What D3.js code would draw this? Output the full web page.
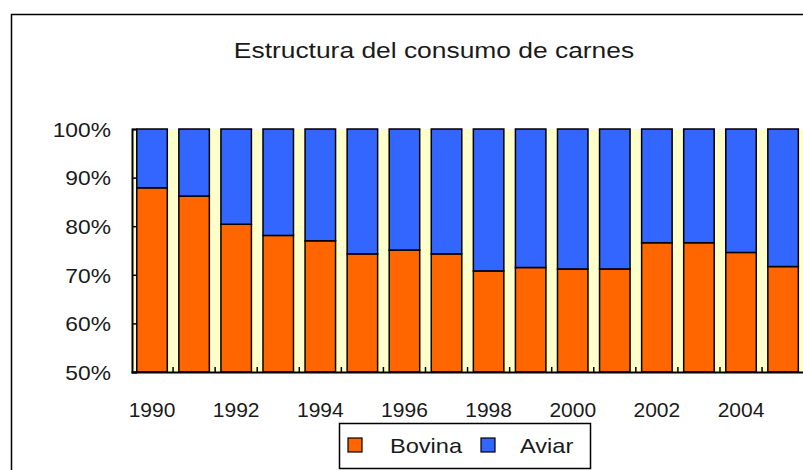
<!DOCTYPE html>
<html>
<head>
<meta charset="utf-8">
<script src="https://cdn.jsdelivr.net/npm/d3@7"></script>
<style>
  html, body { margin: 0; padding: 0; background: #fff; overflow: hidden; }
  text { font-family: "Liberation Sans", Arial, sans-serif; fill: #1a1a1a; }
</style>
</head>
<body>
<svg id="chart"></svg>
<script>
// datos del gráfico
const years = ["1990", "1991", "1992", "1993", "1994", "1995", "1996", "1997",
               "1998", "1999", "2000", "2001", "2002", "2003", "2004", "2005"];
const bovina = [87.9, 86.2, 80.4, 78.1, 77.0, 74.3, 75.1, 74.3,
                70.8, 71.5, 71.2, 71.2, 76.6, 76.6, 74.6, 71.7];
const aviar = bovina.map(v => +(100 - v).toFixed(1));
const yTicks = [50, 60, 70, 80, 90, 100];
const xLabels = ["1990", "1992", "1994", "1996", "1998", "2000", "2002", "2004"];
const seriesNames = ["Bovina", "Aviar"];
const colors = ["#ff6600", "#3366ff"];

const width = 880, height = 520;

const svg = d3.select("#chart").attr("width", width).attr("height", height);

// texto estirado horizontalmente alrededor de su punto de anclaje
const stretch = (sx) => (sel) => sel.attr("transform", function () {
    let t = d3.select(this);
    let x = +t.attr("x"), y = +t.attr("y");
    return `translate(${x},${y}) scale(${sx},1) translate(${-x},${-y})`;
});

// marco exterior
svg.append("rect")
    .attr("x", 11.5).attr("y", 14.5)
    .attr("width", 900).attr("height", 600)
    .attr("fill", "#fff").attr("stroke", "#000").attr("stroke-width", 1.5);

// título
svg.append("text")
    .attr("x", 434).attr("y", 58)
    .attr("text-anchor", "middle")
    .style("font-size", "22px")
    .text("Estructura del consumo de carnes")
    .call(stretch(1.2));

// escalas
let plotLeft = 131, plotTop = 129, plotBottom = 372;
let step = 42.07;
let scaleX = d3.scaleBand()
    .domain(years)
    .range([plotLeft, plotLeft + step * years.length])
    .paddingInner(0.275)
    .paddingOuter(0.1375);
let scaleY = d3.scaleLinear()
    .domain([50, 100])
    .range([plotBottom, plotTop]);

// fondo del área de trazado
svg.append("rect")
    .attr("x", plotLeft).attr("y", plotTop)
    .attr("width", step * years.length).attr("height", plotBottom - plotTop)
    .attr("fill", "#ffffcc");

// barras apiladas al 100%
let rows = years.map((y, i) => ({ year: y, Bovina: bovina[i], Aviar: aviar[i] }));
let stack = d3.stack().keys(seriesNames)(rows);

svg.append("g")
    .selectAll("g")
    .data(stack)
    .join("g")
    .attr("fill", (d, i) => colors[i])
    .selectAll("rect")
    .data(d => d)
    .join("rect")
    .attr("x", d => scaleX(d.data.year))
    .attr("width", scaleX.bandwidth())
    .attr("y", d => scaleY(Math.min(100, d[1])))
    .attr("height", d => scaleY(Math.max(50, d[0])) - scaleY(Math.min(100, d[1])))
    .attr("stroke", "#000")
    .attr("stroke-width", 1.5);

// eje Y
let axisY = d3.axisLeft(scaleY)
    .tickValues(yTicks)
    .tickSize(-5)
    .tickFormat(d => d + "%");
let gy = svg.append("g")
    .attr("transform", `translate(${plotLeft + 1}, 0)`)
    .call(axisY);
gy.select(".domain").attr("stroke", "#000").attr("stroke-width", 2);
gy.selectAll(".tick line").attr("stroke", "#000").attr("stroke-width", 1.5);
gy.selectAll(".tick text")
    .attr("x", -21).attr("dy", "0.36em")
    .attr("font-family", null)
    .attr("font-size", null)
    .attr("fill", null)
    .style("font-size", "20px")
    .attr("transform", "translate(-21,0) scale(1.14,1) translate(21,0)");

// eje X
let axisX = d3.axisBottom(scaleX).tickSize(0).tickFormat("");
let gx = svg.append("g")
    .attr("transform", `translate(0, ${plotBottom})`)
    .call(axisX);
gx.select(".domain").attr("stroke", "#000").attr("stroke-width", 2);
// marcas entre categorías
gx.selectAll(".sep")
    .data(years.slice(1))
    .join("line")
    .attr("x1", d => scaleX(d) - scaleX.step() * scaleX.paddingInner() / 2)
    .attr("x2", d => scaleX(d) - scaleX.step() * scaleX.paddingInner() / 2)
    .attr("y1", 0).attr("y2", -5)
    .attr("stroke", "#000").attr("stroke-width", 1.5);
// etiquetas de años
svg.append("g")
    .selectAll("text")
    .data(xLabels)
    .join("text")
    .attr("x", d => scaleX(d) + scaleX.bandwidth() / 2)
    .attr("y", 417)
    .attr("text-anchor", "middle")
    .style("font-size", "21px")
    .text(d => d)
    .call(stretch(1.0));

// leyenda
let legend = svg.append("g");
legend.append("rect")
    .attr("x", 339.5).attr("y", 423.5)
    .attr("width", 251).attr("height", 45)
    .attr("fill", "#fff").attr("stroke", "#000").attr("stroke-width", 1.5);
let legendX = [348, 481];
let legendTextX = [390, 520];
seriesNames.forEach((name, i) => {
    legend.append("rect")
        .attr("x", legendX[i]).attr("y", 438)
        .attr("width", 14).attr("height", 14)
        .attr("fill", colors[i]).attr("stroke", "#000").attr("stroke-width", 1.2);
    legend.append("text")
        .attr("x", legendTextX[i]).attr("y", 453)
        .style("font-size", "20px")
        .text(name)
        .call(stretch(1.18));
});
</script>
</body>
</html>
